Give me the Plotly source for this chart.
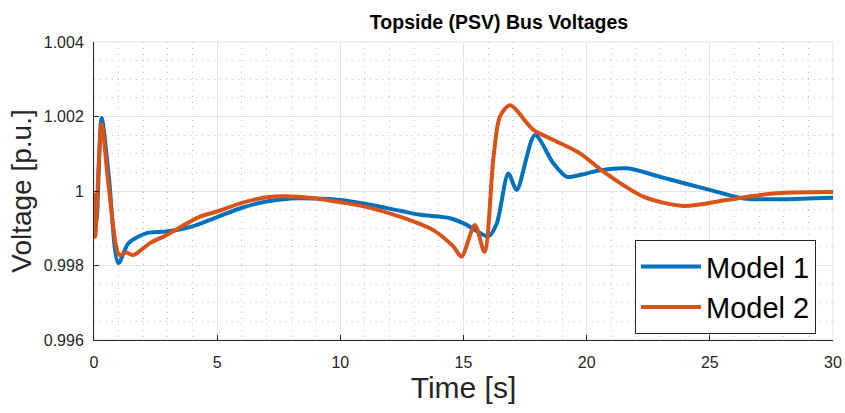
import plotly.graph_objects as go

# Model 1 (blue)
t1 = [0.0, 0.1, 0.31, 0.6, 0.99, 1.4, 2.14, 2.95, 4.0, 5.0, 6.0, 7.0, 8.0, 9.0, 10.0, 11.0,
      12.42, 13.24, 14.45, 15.13, 15.6, 16.01, 16.35, 16.82, 17.16, 17.9, 18.65, 19.19, 19.73,
      20.5, 21.63, 22.98, 24.0, 25.0, 26.36, 28.0, 30.0]
v1 = [0.99990, 0.99920, 1.00196, 1.00040, 0.99806, 0.99860, 0.99887, 0.99891, 0.99905, 0.99930,
      0.99955, 0.99972, 0.99980, 0.99980, 0.99976, 0.99966,
      0.99947, 0.99936, 0.99927, 0.99909, 0.99890, 0.99878, 0.99913, 1.00047, 1.00003, 1.00150,
      1.00074, 1.00038, 1.00043, 1.00055, 1.00061, 1.00038, 1.00020, 1.00003, 0.99980, 0.99978, 0.99982]

# Model 2 (orange)
t2 = [0.0, 0.05, 0.31, 0.6, 1.03, 1.3, 1.6, 2.27, 2.95, 4.3, 5.0, 6.0, 7.0, 7.8, 9.0, 10.0, 11.0,
      12.42, 13.77, 14.6, 14.92, 15.46, 15.85, 16.22, 16.48, 16.89, 17.84, 18.65, 19.73,
      20.68, 22.3, 23.92, 25.68, 27.7, 30.0]
v2 = [0.99995, 0.99877, 1.00180, 1.00010, 0.99828, 0.99835, 0.99828, 0.99860, 0.99882, 0.99931,
      0.99945, 0.99968, 0.99983, 0.99986, 0.99980, 0.99970, 0.99958,
      0.99931, 0.99895, 0.99850, 0.99824, 0.99909, 0.99837, 1.00092, 1.00200, 1.00230, 1.00164,
      1.00137, 1.00101, 1.00052, 0.99985, 0.99960, 0.99976, 0.99994, 0.99997]

x_ticks = [0, 5, 10, 15, 20, 25, 30]
y_ticks = [0.996, 0.998, 1.0, 1.002, 1.004]
y_labels = ["0.996", "0.998", "1", "1.002", "1.004"]

FONT = "Liberation Sans, Arial, sans-serif"

fig = go.Figure()
fig.add_trace(go.Scatter(x=t1, y=v1, mode="lines", name="Model 1",
                         line=dict(color="#0072BD", width=4, shape="spline", smoothing=0.8)))
fig.add_trace(go.Scatter(x=t2, y=v2, mode="lines", name="Model 2",
                         line=dict(color="#D95319", width=4, shape="spline", smoothing=0.8)))

minor_grid = dict(showgrid=True, gridcolor="#c4c4c4", griddash="1px,5px", gridwidth=1)

fig.update_layout(
    width=845, height=413,
    margin=dict(l=94, r=12, t=42, b=73, autoexpand=False),
    paper_bgcolor="white", plot_bgcolor="white",
    font=dict(family=FONT, color="#262626"),
    title=dict(text="<b>Topside (PSV) Bus Voltages</b>", x=0.548, xanchor="center",
               xref="paper", y=1 - 22 / 413, yref="container", yanchor="middle",
               font=dict(size=19.5, color="black", family=FONT)),
    legend=dict(x=0.977, y=0.02, xanchor="right", yanchor="bottom",
                bgcolor="white", bordercolor="#262626", borderwidth=1, itemwidth=60,
                font=dict(size=29, color="black", family=FONT), tracegroupgap=0),
    xaxis=dict(range=[0, 30], tickvals=x_ticks, ticks="inside", ticklen=5, automargin=False,
               tickcolor="#262626", showline=True, linecolor="#262626", mirror=False,
               showgrid=True, gridcolor="#e3e3e3", gridwidth=1, zeroline=False,
               tickfont=dict(size=16, color="#262626"), ticklabelstandoff=8,
               title=dict(text="Time [s]", font=dict(size=30, color="#262626"), standoff=4),
               minor=dict(dtick=1, **minor_grid)),
    yaxis=dict(range=[0.996, 1.004], tickvals=y_ticks, ticktext=y_labels, ticks="inside", ticklen=5,
               automargin=False,
               tickcolor="#262626", showline=True, linecolor="#262626", mirror=False,
               showgrid=True, gridcolor="#e3e3e3", gridwidth=1, zeroline=False,
               tickfont=dict(size=16, color="#262626"), ticklabelstandoff=6,
               title=dict(text="Voltage [p.u.]", font=dict(size=28, color="#262626"), standoff=3),
               minor=dict(dtick=0.0005, tick0=0.996, **minor_grid)),
)
# top/right light border
fig.add_shape(type="rect", xref="paper", yref="paper", x0=0, y0=0, x1=1, y1=1,
              line=dict(color="#e3e3e3", width=1), layer="below")

fig.write_html("out.html")
